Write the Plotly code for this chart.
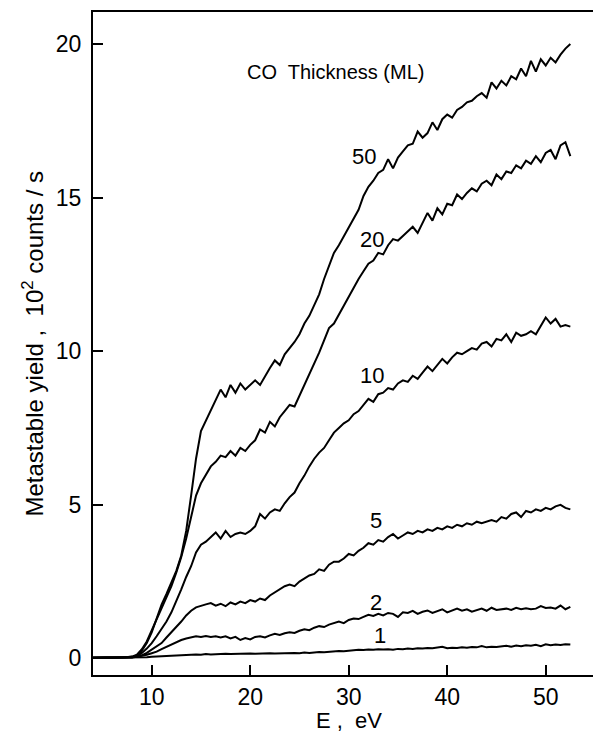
import numpy as np
import plotly.graph_objects as go

# Energy grid (eV), 4.0 .. 52.5 in 0.5 steps
energy = [round(v, 1) for v in np.arange(4.0, 52.51, 0.5)]

thickness_labels = ["50", "20", "10", "5", "2", "1"]

y50 = [0.02, 0.03, 0.02, 0.03, 0.02, 0.03, 0.03, 0.04, 0.05, 0.10,
       0.25, 0.50, 0.85, 1.30, 1.75, 2.10, 2.45, 2.85, 3.35, 4.15,
       5.30, 6.50, 7.40, 7.75, 8.05, 8.45, 8.75, 8.50, 8.90, 8.65,
       8.95, 8.75, 8.90, 9.05, 8.90, 9.20, 9.45, 9.70, 9.55, 9.90,
       10.10, 10.30, 10.55, 10.90, 11.15, 11.50, 11.85, 12.35, 12.80, 13.20,
       13.45, 13.75, 14.00, 14.35, 14.60, 15.05, 15.35, 15.55, 15.80, 15.90,
       16.25, 15.95, 16.30, 16.50, 16.70, 16.75, 17.15, 16.95, 17.10, 17.45,
       17.20, 17.55, 17.70, 17.60, 17.85, 17.95, 18.10, 18.15, 18.30, 18.40,
       18.25, 18.75, 18.55, 18.80, 18.65, 18.95, 18.85, 19.20, 18.95, 19.45,
       19.10, 19.50, 19.30, 19.55, 19.40, 19.65, 19.85, 20.00]

y20 = [0.02, 0.03, 0.02, 0.03, 0.03, 0.02, 0.03, 0.04, 0.06, 0.12,
       0.30, 0.55, 0.90, 1.30, 1.65, 2.00, 2.35, 2.80, 3.30, 3.90,
       4.60, 5.30, 5.70, 6.00, 6.25, 6.40, 6.60, 6.55, 6.75, 6.60,
       6.85, 6.75, 6.95, 7.10, 7.45, 7.35, 7.70, 7.55, 7.85, 8.05,
       8.25, 8.20, 8.55, 8.90, 9.20, 9.60, 9.95, 10.35, 10.75, 10.90,
       11.20, 11.45, 11.75, 12.10, 12.35, 12.60, 12.85, 12.95, 13.20, 13.15,
       13.45, 13.65, 13.60, 13.75, 13.90, 14.05, 13.85, 14.20, 14.50, 14.25,
       14.65, 14.45, 14.80, 14.75, 15.10, 14.95, 15.15, 15.30, 15.20, 15.45,
       15.55, 15.40, 15.75, 15.60, 15.85, 15.80, 16.05, 15.95, 16.20, 16.10,
       16.35, 16.15, 16.45, 16.55, 16.25, 16.70, 16.80, 16.35]

y10 = [0.02, 0.02, 0.03, 0.02, 0.03, 0.02, 0.03, 0.03, 0.04, 0.08,
       0.18, 0.32, 0.50, 0.72, 0.95, 1.20, 1.50, 1.85, 2.25, 2.65,
       3.00, 3.45, 3.70, 3.80, 3.95, 4.10, 3.90, 4.15, 3.95, 4.05,
       4.10, 4.05, 4.15, 4.30, 4.70, 4.55, 4.75, 4.85, 4.80, 5.05,
       5.25, 5.40, 5.70, 5.95, 6.25, 6.50, 6.70, 6.85, 7.10, 7.35,
       7.50, 7.65, 7.75, 7.95, 8.05, 8.25, 8.45, 8.35, 8.60, 8.65,
       8.80, 8.75, 8.95, 9.05, 9.00, 9.20, 9.10, 9.30, 9.50, 9.35,
       9.55, 9.75, 9.60, 9.80, 9.95, 9.90, 10.00, 10.10, 10.05, 10.25,
       10.30, 10.15, 10.40, 10.35, 10.55, 10.30, 10.60, 10.50, 10.55, 10.65,
       10.55, 10.85, 11.10, 10.90, 11.05, 10.80, 10.85, 10.80]

y5 = [0.02, 0.02, 0.02, 0.03, 0.02, 0.03, 0.02, 0.03, 0.04, 0.06,
      0.10, 0.18, 0.28, 0.38, 0.50, 0.68, 0.85, 1.02, 1.20, 1.40,
      1.55, 1.66, 1.72, 1.76, 1.80, 1.72, 1.78, 1.70, 1.82, 1.76,
      1.85, 1.80, 1.90, 1.85, 1.95, 1.90, 2.05, 2.15, 2.25, 2.35,
      2.40, 2.35, 2.50, 2.60, 2.70, 2.75, 2.90, 2.85, 3.05, 3.15,
      3.15, 3.25, 3.40, 3.35, 3.50, 3.60, 3.75, 3.70, 3.85, 3.80,
      3.95, 4.05, 3.90, 4.00, 4.10, 4.05, 4.15, 4.10, 4.20, 4.15,
      4.25, 4.20, 4.30, 4.25, 4.35, 4.30, 4.40, 4.35, 4.45, 4.40,
      4.45, 4.50, 4.45, 4.60, 4.55, 4.70, 4.75, 4.60, 4.80, 4.75,
      4.85, 4.80, 4.90, 4.85, 4.95, 5.00, 4.90, 4.85]

y2 = [0.02, 0.02, 0.02, 0.02, 0.03, 0.02, 0.02, 0.03, 0.03, 0.05,
      0.08, 0.12, 0.17, 0.22, 0.30, 0.38, 0.46, 0.53, 0.60, 0.65,
      0.68, 0.72, 0.70, 0.73, 0.70, 0.72, 0.68, 0.72, 0.65, 0.70,
      0.60, 0.66, 0.62, 0.70, 0.72, 0.68, 0.75, 0.80, 0.76, 0.82,
      0.85, 0.83, 0.90, 0.95, 0.92, 1.00, 1.05, 1.02, 1.10, 1.15,
      1.20, 1.15, 1.25, 1.30, 1.28, 1.35, 1.42, 1.38, 1.45, 1.40,
      1.48, 1.45, 1.35, 1.50, 1.48, 1.55, 1.45, 1.52, 1.56, 1.48,
      1.55, 1.60, 1.50, 1.57, 1.62, 1.55, 1.60, 1.52, 1.58, 1.62,
      1.55, 1.65, 1.58, 1.60, 1.62, 1.58, 1.65, 1.60, 1.63, 1.60,
      1.62, 1.70, 1.64, 1.66, 1.62, 1.72, 1.60, 1.68]

y1 = [0.02, 0.02, 0.02, 0.02, 0.02, 0.02, 0.02, 0.02, 0.02, 0.03,
      0.03, 0.04, 0.05, 0.06, 0.07, 0.08, 0.09, 0.10, 0.11, 0.12,
      0.12, 0.13, 0.12, 0.14, 0.13, 0.14, 0.13, 0.15, 0.14, 0.15,
      0.14, 0.15, 0.16, 0.15, 0.16, 0.15, 0.17, 0.16, 0.17, 0.16,
      0.17, 0.18, 0.17, 0.19, 0.18, 0.20, 0.21, 0.20, 0.22, 0.23,
      0.24, 0.23, 0.25, 0.26, 0.28, 0.27, 0.29, 0.28, 0.30, 0.29,
      0.30, 0.28, 0.31, 0.30, 0.32, 0.31, 0.33, 0.32, 0.34, 0.33,
      0.35, 0.38, 0.33, 0.35, 0.34, 0.36, 0.35, 0.37, 0.36, 0.40,
      0.36, 0.38, 0.37, 0.39, 0.41, 0.38, 0.42, 0.40, 0.43, 0.41,
      0.44, 0.40, 0.46, 0.43, 0.45, 0.44, 0.46, 0.45]

# label positions (data coordinates) for curve labels
label_x = [31.6, 32.4, 32.4, 32.8, 32.8, 33.2]
label_y = [16.35, 13.65, 9.2, 4.5, 1.82, 0.75]

x_ticks = [10, 20, 30, 40, 50]
y_ticks = [0, 5, 10, 15, 20]

FONT = "Liberation Sans, Arial, Helvetica, sans-serif"

fig = go.Figure()
for name, ys in zip(thickness_labels, [y50, y20, y10, y5, y2, y1]):
    n = min(len(energy), len(ys))
    fig.add_trace(go.Scatter(x=energy[:n], y=ys[:n], mode="lines", name=name,
                             line=dict(color="black", width=2),
                             showlegend=False, hoverinfo="skip"))

for t, lx, ly in zip(thickness_labels, label_x, label_y):
    fig.add_annotation(x=lx, y=ly, xref="x", yref="y", text=t, showarrow=False,
                       font=dict(family=FONT, size=22, color="black"))

fig.add_annotation(x=28.7, y=19.1, xref="x", yref="y", text="CO  Thickness (ML)",
                   showarrow=False, font=dict(family=FONT, size=20, color="black"))

fig.add_annotation(x=0.512, y=-0.068, xref="paper", yref="paper", text="E ,  eV",
                   showarrow=False, yanchor="middle",
                   font=dict(family=FONT, size=22, color="black"))
fig.add_annotation(x=-0.122, y=0.5, xref="paper", yref="paper",
                   text="Metastable yield ,  10<sup>2</sup> counts / s",
                   textangle=-90, showarrow=False, xanchor="center", yanchor="middle",
                   font=dict(family=FONT, size=24, color="black"))

fig.update_layout(
    width=593, height=734,
    margin=dict(l=93, r=0, t=12, b=59),
    paper_bgcolor="white", plot_bgcolor="white",
    font=dict(family=FONT, size=22, color="black"),
    xaxis=dict(range=[4.04, 54.8], tickvals=x_ticks, ticks="inside", ticklen=10,
               tickwidth=2, tickcolor="black", showline=True, linecolor="black",
               linewidth=2, mirror=True, showgrid=False, zeroline=False,
               tickfont=dict(family=FONT, size=23)),
    yaxis=dict(range=[-0.54, 21.04], tickvals=y_ticks, ticks="inside", ticklen=10,
               tickwidth=2, tickcolor="black", showline=True, linecolor="black",
               linewidth=2, mirror=False, showgrid=False, zeroline=False,
               ticklabelstandoff=5, tickfont=dict(family=FONT, size=23)),
)

fig.write_html("out.html",
               config={"displayModeBar": False},
               post_script="document.body.style.margin='0';document.body.style.overflow='hidden';")
